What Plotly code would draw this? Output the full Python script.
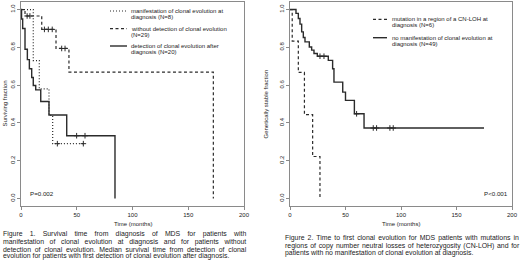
import plotly.graph_objects as go

W, H = 520, 276
FONT = "Liberation Sans, Arial, sans-serif"
CURVE = "#2b2b2b"
FRAME = "#8a8a8a"
TXT = "#222222"

# ---------------- Figure 1 data (time in months, surviving fraction) ----------------
f1_manif_t = [0, 11.0, 16.4, 25.1, 28.4, 57.4]
f1_manif_s = [1.0, 0.73, 0.58, 0.44, 0.29, 0.29]
f1_manif_cens = [32.6, 55.9]

f1_without_t = [0, 3.6, 18.6, 31.4, 43.0, 172.5]
f1_without_s = [1.0, 0.966, 0.895, 0.794, 0.669, 0.0]
f1_without_cens = [5.5, 8.0, 21.0, 24.5, 28.0, 36.5, 39.5]

f1_after_t = [0, 0.5, 1.5, 3.6, 5.7, 7.5, 9.6, 11.0, 13.2, 17.7, 25.1, 41.0, 84.3]
f1_after_s = [1.0, 0.95, 0.9, 0.79, 0.735, 0.687, 0.64, 0.598, 0.575, 0.513, 0.442, 0.332, 0.0]
f1_after_cens = [49.9, 57.4]

# ---------------- Figure 2 data (time in months, genetically stable fraction) -------
f2_cnloh_t = [0, 2.0, 7.5, 13.0, 20.4, 27.0]
f2_cnloh_s = [1.0, 0.833, 0.667, 0.444, 0.222, 0.0]
f2_cnloh_cens = []

f2_noce_t = [0, 5.4, 7.5, 9.0, 10.5, 12.0, 13.5, 17.4, 19.5, 21.6, 24.6, 34.5, 38.4,
             39.6, 47.5, 50.0, 58.0, 66.7, 174.8]
f2_noce_s = [1.0, 0.98, 0.953, 0.923, 0.882, 0.852, 0.829, 0.802, 0.785, 0.767, 0.753,
             0.731, 0.687, 0.616, 0.563, 0.519, 0.448, 0.373, 0.373]
f2_noce_cens = [27.0, 30.6, 60.0, 75.0, 78.0, 90.0, 93.0]

x_ticks = [0, 50, 100, 150, 200]
y_ticks = [0.0, 0.2, 0.4, 0.6, 0.8, 1.0]
y_ticktext = ["0.0", "0.2", "0.4", "0.6", "0.8", "1.0"]

f1_legend = [["manifestation of clonal evolution at", "diagnosis (N=8)"],
             ["without detection of clonal evolution", "(N=29)"],
             ["detection of clonal evolution after", "diagnosis (N=20)"]]
f2_legend = [["mutation in a region of a CN-LOH at", "diagnosis (N=6)"],
             ["no manifestation of clonal evolution at", "diagnosis (N=49)"]]

cap1 = ["Figure 1. Survival time from diagnosis of MDS for patients with",
        "manifestation of clonal evolution at diagnosis and for patients without",
        "detection of clonal evolution. Median survival time from detection of clonal",
        "evolution for patients with first detection of clonal evolution after diagnosis."]
cap2 = ["Figure 2. Time to first clonal evolution for MDS patients with mutations in",
        "regions of copy number neutral losses of heterozygosity (CN-LOH) and for",
        "patients with no manifestation of clonal evolution at diagnosis."]


def surv_at(ts, ss, t):
    v = ss[0]
    for ti, si in zip(ts, ss):
        if ti <= t:
            v = si
    return v


fig = go.Figure()

def add_curve(ts, ss, cens, dash, width, xa, ya):
    fig.add_trace(go.Scatter(x=ts, y=ss, mode="lines", line_shape="hv",
                             line=dict(color=CURVE, width=width, dash=dash),
                             xaxis=xa, yaxis=ya, hoverinfo="skip"))
    if cens:
        fig.add_trace(go.Scatter(x=cens, y=[surv_at(ts, ss, c) for c in cens],
                                 mode="markers",
                                 marker=dict(symbol="cross-thin-open", size=4, color=CURVE,
                                             line=dict(width=1, color=CURVE)),
                                 xaxis=xa, yaxis=ya, hoverinfo="skip"))

DOT = "1px,2px"
DASH = "3px,2.5px"
add_curve(f1_manif_t, f1_manif_s, f1_manif_cens, DOT, 1.2, "x", "y")
add_curve(f1_without_t, f1_without_s, f1_without_cens, DASH, 1.2, "x", "y")
add_curve(f1_after_t, f1_after_s, f1_after_cens, "solid", 1.4, "x", "y")
add_curve(f2_cnloh_t, f2_cnloh_s, f2_cnloh_cens, DASH, 1.2, "x2", "y2")
add_curve(f2_noce_t, f2_noce_s, f2_noce_cens, "solid", 1.4, "x2", "y2")

ydom = [(H - 206) / H, (H - 2) / H]
axis_common = dict(showline=True, mirror=True, linecolor=FRAME, linewidth=1,
                   ticks="outside", ticklen=3, tickcolor=FRAME, tickwidth=1,
                   showgrid=False, zeroline=False, automargin=False,
                   tickfont=dict(family=FONT, size=6, color=TXT))

fig.update_layout(
    template="none",
    width=W, height=H, margin=dict(l=0, r=0, t=0, b=0, pad=0),
    paper_bgcolor="white", plot_bgcolor="white", showlegend=False,
    xaxis=dict(domain=[21 / W, 244 / W], range=[0, 200], tickvals=x_ticks,
               anchor="y", **axis_common),
    yaxis=dict(domain=ydom, range=[-0.04, 1.04], tickvals=y_ticks, ticktext=y_ticktext,
               tickangle=-90, anchor="x", **axis_common),
    xaxis2=dict(domain=[290 / W, 512 / W], range=[0, 200], tickvals=x_ticks,
                anchor="y2", **axis_common),
    yaxis2=dict(domain=ydom, range=[-0.04, 1.04], tickvals=y_ticks, ticktext=y_ticktext,
                tickangle=-90, anchor="x2", **axis_common),
)

annotations = []
shapes = []

def ann(x, y, text, size, xanchor="left", angle=0):
    annotations.append(dict(x=x / W, y=1 - y / H, xref="paper", yref="paper",
                            text=text, showarrow=False, xanchor=xanchor,
                            yanchor="middle", textangle=angle, borderpad=0,
                            font=dict(family=FONT, size=size, color=TXT)))

# axis titles
ann(4.5, 104, "Surviving fraction", 6, "center", -90)
ann(265.5, 104, "Genetically stable fraction", 6, "center", -90)
ann(133, 224, "Time (months)", 6, "center")
ann(401, 224, "Time (months)", 6, "center")

# p-values
ann(29, 193, "P=0.002", 6.2)
ann(483, 193, "P&lt;0.001", 6.2)

# legends
def legend(items, dashes, widths, sx0, sx1, tx, ys):
    for lines, d, w, y in zip(items, dashes, widths, ys):
        shapes.append(dict(type="line", xref="paper", yref="paper",
                           x0=sx0 / W, x1=sx1 / W, y0=1 - y / H, y1=1 - y / H,
                           line=dict(color=CURVE, width=w, dash=d)))
        for k, ln in enumerate(lines):
            ann(tx, y + k * 6.2, ln, 6.0)

legend(f1_legend, [DOT, DASH, "solid"], [1.2, 1.2, 1.4], 110, 127, 130, [11, 28.6, 46.0])
legend(f2_legend, [DASH, "solid"], [1.2, 1.4], 373, 387, 391, [19.3, 37.7])

# captions (justified like the original, via word spacing)
AW = {' ': 278, '!': 278, '(': 333, ')': 333, '-': 333, '.': 278, ',': 278, '=': 584,
      '<': 584, 'A': 667, 'B': 667, 'C': 722, 'D': 722, 'E': 667, 'F': 611, 'G': 778,
      'H': 722, 'I': 278, 'L': 556, 'M': 833, 'N': 722, 'O': 778, 'P': 667, 'S': 667,
      'T': 611, 'a': 556, 'b': 556, 'c': 500, 'd': 556, 'e': 556, 'f': 278, 'g': 556,
      'h': 556, 'i': 222, 'j': 222, 'k': 500, 'l': 222, 'm': 833, 'n': 556, 'o': 556,
      'p': 556, 'q': 556, 'r': 333, 's': 500, 't': 278, 'u': 556, 'v': 500, 'w': 722,
      'x': 500, 'y': 500, 'z': 500}

def tw(s, fs):
    return sum(AW.get(ch, 556) for ch in s) * fs / 1000.0

def caption(lines, x0, x1, ys, fs):
    for i, (ln, y) in enumerate(zip(lines, ys)):
        last = i == len(lines) - 1
        nsp = ln.count(" ")
        if last or nsp == 0:
            ann(x0, y, ln, fs)
            continue
        extra = (x1 - x0 - tw(ln, fs)) / nsp
        ann(x0, y, '<span style="word-spacing:%.2fpx">%s</span>' % (extra, ln), fs)

caption(cap1, 1.5, 245, [234, 241.6, 249, 256.4], 6.9)
caption(cap2, 283.5, 518, [238.3, 245.8, 253.3], 6.9)

fig.update_layout(annotations=annotations, shapes=shapes)
fig.write_html("out.html", config={"displayModeBar": False, "staticPlot": True},
               post_script="document.body.style.margin='0';document.body.style.padding='0';")
